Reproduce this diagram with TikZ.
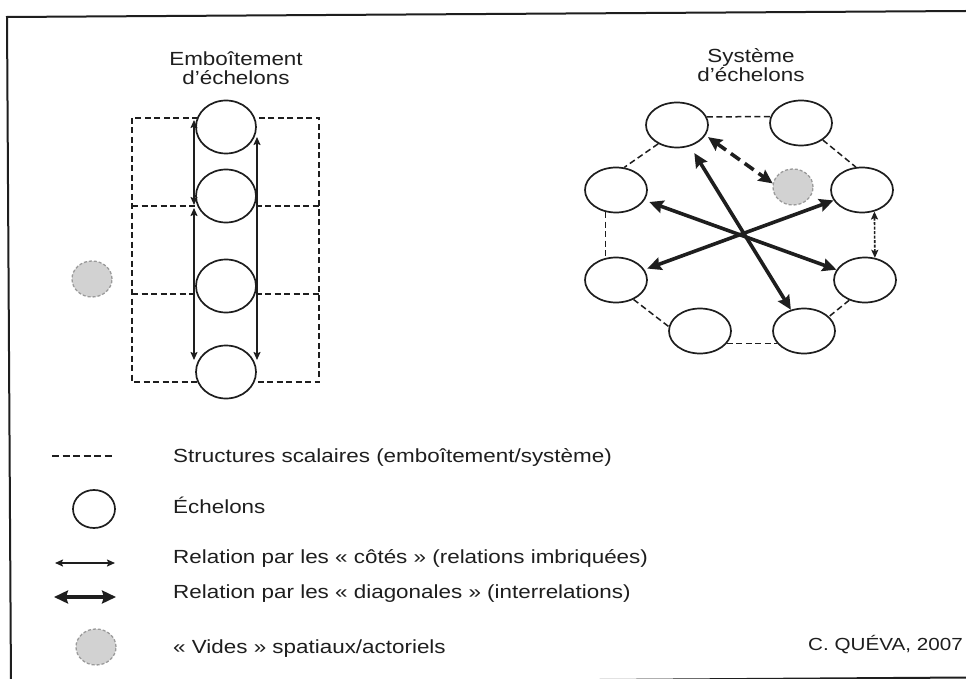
\documentclass[tikz,border=0pt]{standalone}
\usepackage{fontspec}
\setmainfont{Liberation Sans}[FakeStretch=1.18]
\usetikzlibrary{shapes.geometric,arrows.meta}
\definecolor{ink}{HTML}{1E1E1E}
\definecolor{voidfill}{HTML}{D2D2D2}
\definecolor{voidline}{HTML}{9A9A9A}
\begin{document}
\begin{tikzpicture}[x=1pt,y=-1pt,
  ech/.style={ellipse,draw=ink,line width=1.7pt,fill=white,inner sep=0pt},
  echL/.style={ech,minimum width=60pt,minimum height=53pt},
  echR/.style={ech,minimum width=62pt,minimum height=45pt},
  vide/.style={ellipse,draw=voidline,fill=voidfill,line width=1.3pt,dash pattern=on 3pt off 2pt,inner sep=0pt,minimum width=40pt,minimum height=36pt},
  scal/.style={draw=ink,line width=1.5pt,dash pattern=on 6pt off 3.5pt},
  cote/.style={draw=ink,line width=1.6pt,{Stealth[length=8pt,width=7pt,inset=1.5pt]}-{Stealth[length=8pt,width=7pt,inset=1.5pt]}},
  diag/.style={draw=ink,line width=3.6pt,{Stealth[length=14pt,width=13pt,inset=2pt]}-{Stealth[length=14pt,width=13pt,inset=2pt]}},
  lbl/.style={text=ink,font=\fontsize{19}{19}\selectfont,inner sep=0pt},
  frame/.style={draw=ink,line width=2pt}
]
\useasboundingbox (0,0) rectangle (966,679);
\fill[white] (0,0) rectangle (966,679);
\draw[frame] (966,11) -- (7,17) -- (11,686);
\draw[frame] (11,684) -- (966,677.5);

% ---------- left: emboitement ----------
\node[lbl,align=center] (t1) at (236,68) {Emboîtement\\d’échelons};
\coordinate (gTL) at (132,118);
\coordinate (gBR) at (319,382);
\draw[scal] (gTL) rectangle (gBR);
\draw[scal] (132,206) -- (319,206);
\draw[scal] (132,294) -- (319,294);
\node[echL] (e1) at (226,127) {};
\node[echL] (e2) at (226,196) {};
\node[echL] (e3) at (226,286) {};
\node[echL] (e4) at (226,372) {};
\coordinate (a1) at (194,120);
\coordinate (a2) at (194,205);
\coordinate (a3) at (194,208);
\coordinate (a4) at (194,360);
\coordinate (b1) at (257,137);
\coordinate (b2) at (257,360);
\draw[cote] (a2) -- (a1);
\draw[cote] (a3) -- (a4);
\draw[cote] (b1) -- (b2);
\node[vide] (v1) at (92,279) {};

% ---------- right: systeme ----------
\node[lbl,align=center] (t2) at (751,65) {Système\\d’échelons};
\node[echR] (c1) at (677,125) {};
\node[echR] (c2) at (801,123) {};
\node[echR] (c3) at (616,190) {};
\node[echR] (c4) at (862,190) {};
\node[echR] (c5) at (616,280) {};
\node[echR] (c6) at (865,280) {};
\node[echR] (c7) at (700,331) {};
\node[echR] (c8) at (804,331) {};
\node[vide] (g) at (793,187) {};
\draw[scal] (c1.15) -- (c2.168);
\draw[scal] (c1.225) -- (c3.70);
\draw[scal] (c2.322) -- (c4.105);
\draw[scal] (c3.245) -- (c5.115);
\draw[scal] (c5.312) -- (c7.172);
\draw[scal] (c6.232) -- (c8.30);
\draw[scal] (c7.335) -- (c8.205);
\draw[cote,dash pattern=on 3pt off 1.5pt] (c4.300) -- (c6.66);
\draw[diag,shorten <=8pt] (c1) -- (c8);
\draw[diag,shorten <=5pt] (c3) -- (c6);
\draw[diag,shorten <=3pt] (c5) -- (c4);
\draw[diag,dash pattern=on 11pt off 6pt,shorten <=3pt] (c1.-20) -- (g.170);

% ---------- legend ----------
\coordinate (ls1) at (52,456);
\coordinate (ls2) at (115,456);
\draw[scal,dash pattern=on 7pt off 3.5pt] (ls1) -- (ls2);
\node[ech,minimum width=42pt,minimum height=38pt] (lc) at (94,509) {};
\coordinate (lt1) at (55,563);
\coordinate (lt2) at (115,563);
\draw[cote] (lt1) -- (lt2);
\coordinate (ld1) at (54,597);
\coordinate (ld2) at (116,597);
\draw[diag] (ld1) -- (ld2);
\node[vide] (lv) at (96,647) {};

\node[lbl,anchor=base west] (x1) at (173,462) {Structures scalaires (emboîtement/système)};
\node[lbl,anchor=base west] (x2) at (173,513) {Échelons};
\node[lbl,anchor=base west] (x3) at (173,563) {Relation par les « côtés » (relations imbriquées)};
\node[lbl,anchor=base west] (x4) at (173,598) {Relation par les « diagonales » (interrelations)};
\node[lbl,anchor=base west] (x5) at (173,653) {« Vides » spatiaux/actoriels};
\node[lbl,anchor=base east,font=\fontsize{17.5}{19}\selectfont] (src) at (963,650) {C. QUÉVA, 2007};
\end{tikzpicture}
\end{document}
